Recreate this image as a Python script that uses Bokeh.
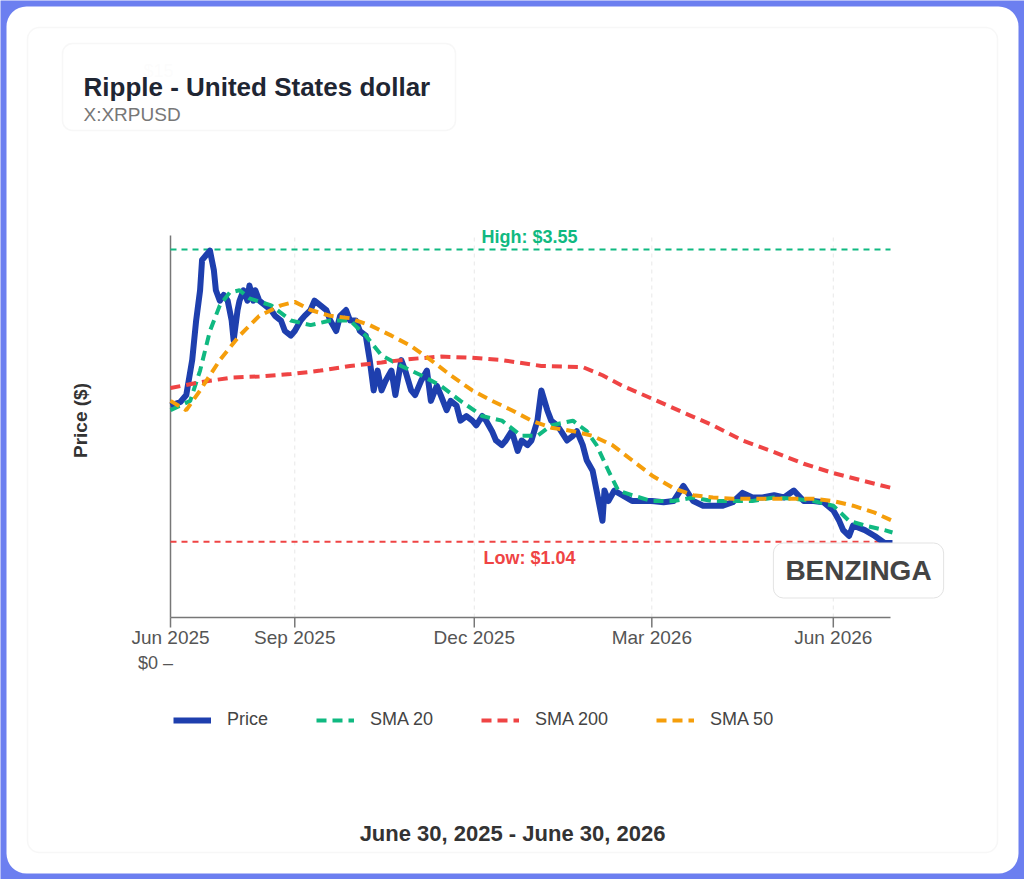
import pandas as pd
from bokeh.plotting import figure
from bokeh.models import Label, BoxAnnotation, Legend, LegendItem, Range1d
from bokeh.core.properties import value
from bokeh.embed import file_html
from bokeh.resources import INLINE

START = pd.Timestamp("2025-06-30")
END = pd.Timestamp("2026-06-30")

# price (days after June 30 2025, USD)
price_days = [0, 5, 8, 11, 13, 15, 16, 18, 20, 22, 23, 25, 27, 29, 31, 32, 34, 35, 37, 39, 40, 42, 43, 45,
              48, 51, 53, 56, 58, 61, 63, 66, 68, 71, 73, 76, 79, 81, 84, 86, 89, 91, 94, 96, 99, 101, 103,
              105, 107, 109, 112, 114, 117, 119, 122, 124, 127, 130, 132, 135, 137, 140, 142, 145, 147, 150,
              153, 155, 158, 160, 163, 165, 168, 170, 173, 176, 178, 181, 183, 186, 188, 191, 193, 196, 198,
              201, 204, 206, 209, 211, 214, 216, 219, 220, 222, 225, 229, 234, 239, 244, 250, 255, 260, 265,
              270, 275, 280, 285, 290, 295, 300, 306, 311, 316, 321, 326, 331, 336, 339, 341, 344, 346, 352,
              357, 362, 366]
price = [2.21, 2.24, 2.30, 2.60, 2.94, 3.20, 3.46, 3.50, 3.54, 3.37, 3.20, 3.11, 3.16, 3.11, 2.94, 2.77,
         3.03, 3.11, 3.20, 3.11, 3.24, 3.11, 3.20, 3.11, 3.07, 3.03, 2.98, 2.94, 2.85, 2.81, 2.85, 2.94,
         2.98, 3.03, 3.11, 3.07, 3.03, 2.94, 2.85, 2.98, 3.03, 2.94, 2.94, 2.85, 2.81, 2.60, 2.34, 2.51,
         2.34, 2.42, 2.51, 2.30, 2.60, 2.51, 2.34, 2.30, 2.42, 2.51, 2.25, 2.38, 2.30, 2.17, 2.25, 2.21,
         2.08, 2.12, 2.08, 2.04, 2.12, 2.08, 1.99, 1.91, 1.87, 1.91, 1.99, 1.82, 1.91, 1.87, 1.91, 2.08,
         2.34, 2.17, 2.08, 2.04, 1.99, 1.91, 1.95, 1.99, 1.87, 1.74, 1.65, 1.48, 1.22, 1.48, 1.39, 1.48,
         1.44, 1.39, 1.39, 1.39, 1.38, 1.39, 1.52, 1.39, 1.35, 1.35, 1.35, 1.38, 1.46, 1.42, 1.42, 1.44,
         1.42, 1.48, 1.39, 1.39, 1.38, 1.31, 1.22, 1.14, 1.09, 1.18, 1.14, 1.09, 1.03, 1.03]

sma20_days = [0, 10, 15, 20, 25, 30, 35, 40, 51, 61, 71, 81, 91, 99, 107, 117, 127, 137, 147, 158, 168,
              178, 186, 193, 204, 211, 216, 222, 227, 234, 244, 255, 265, 275, 285, 295, 306, 316, 326,
              336, 344, 352, 362, 366]
sma20 = [2.17, 2.25, 2.51, 2.85, 3.07, 3.18, 3.20, 3.13, 3.07, 2.94, 2.90, 2.94, 2.94, 2.81, 2.64, 2.55,
         2.47, 2.38, 2.25, 2.12, 2.08, 1.95, 1.95, 2.04, 2.08, 1.99, 1.87, 1.65, 1.48, 1.44, 1.39, 1.39,
         1.42, 1.39, 1.39, 1.39, 1.42, 1.41, 1.39, 1.35, 1.22, 1.18, 1.14, 1.12]

sma50_days = [0, 8, 15, 25, 35, 45, 56, 63, 71, 81, 91, 101, 112, 122, 132, 142, 153, 163, 173, 183, 193,
              204, 214, 224, 234, 244, 255, 265, 275, 285, 295, 306, 316, 326, 336, 346, 357, 366]
sma50 = [2.25, 2.17, 2.34, 2.60, 2.81, 2.98, 3.07, 3.10, 3.03, 2.98, 2.96, 2.90, 2.81, 2.72, 2.60, 2.47,
         2.34, 2.25, 2.17, 2.08, 2.02, 1.99, 1.95, 1.87, 1.74, 1.61, 1.50, 1.44, 1.42, 1.41, 1.41, 1.41,
         1.41, 1.41, 1.39, 1.35, 1.29, 1.22]

sma200_days = [0, 15, 31, 45, 61, 76, 91, 107, 122, 137, 153, 168, 188, 209, 219, 229, 244, 260, 275, 290,
               306, 321, 336, 352, 366]
sma200 = [2.36, 2.41, 2.45, 2.46, 2.48, 2.51, 2.55, 2.58, 2.61, 2.63, 2.62, 2.60, 2.55, 2.54, 2.47, 2.38,
          2.27, 2.15, 2.04, 1.91, 1.81, 1.71, 1.63, 1.56, 1.50]

HIGH = 3.55
LOW = 1.04
Y_MIN, Y_MAX = 0.39, 3.67

tick_dates = ["2025-06-30", "2025-09-01", "2025-12-01", "2026-03-01", "2026-06-01"]
tick_labels = ["Jun 2025", "Sep 2025", "Dec 2025", "Mar 2026", "Jun 2026"]

BLUE = "#1e3fae"
GREEN = "#10b981"
RED = "#ef4444"
ORANGE = "#f59e0b"
AXIS = "#777777"
FONT = "Liberation Sans"

W, H = 1024, 879
# plot region inside the canvas (pixels)
PL, PR, PT, PB = 170, 890, 235, 617
days_per_px = (END - START).days / (PR - PL)
usd_per_px = (Y_MAX - Y_MIN) / (PB - PT)
x0 = START - pd.Timedelta(days=PL * days_per_px)
x1 = END + pd.Timedelta(days=(W - PR) * days_per_px)
y1 = Y_MAX + PT * usd_per_px
y0 = Y_MIN - (H - PB) * usd_per_px


def to_dates(days):
    return [START + pd.Timedelta(days=d) for d in days]


p = figure(width=W, height=H, x_axis_type="datetime", output_backend="svg", toolbar_location=None,
           x_range=Range1d(x0, x1), y_range=Range1d(y0, y1), min_border=0)
p.axis.visible = False
p.grid.visible = False
p.outline_line_color = None
p.background_fill_color = "#6c7ff0"
p.border_fill_color = "#6c7ff0"


def sbox(l, r, t, b, **kw):
    p.add_layout(BoxAnnotation(left=l, right=r, top=H - t, bottom=H - b, left_units="screen",
                               right_units="screen", top_units="screen", bottom_units="screen", **kw))


def slabel(x, y, text, **kw):
    p.add_layout(Label(x=x, y=H - y, x_units="screen", y_units="screen", text=text, text_font=FONT, **kw))


sbox(6, W - 6, 6, H - 6, fill_color="white", fill_alpha=1, line_color=None, border_radius=20, level="underlay")
sbox(27, 997, 27, 852, fill_alpha=0, line_color="#e3e3e3", line_width=1.5, border_radius=12, level="underlay")

# grid, axes, ticks
ticks = [pd.Timestamp(t) for t in tick_dates]
tick_len = 10 * usd_per_px
p.segment(ticks[1:], [Y_MIN] * 4, ticks[1:], [Y_MAX] * 4, line_color="#e8e8e8", line_dash="4 4")
p.segment([START, START], [Y_MIN, Y_MIN], [START, END], [Y_MAX, Y_MIN], line_color=AXIS, line_width=1.5)
p.segment(ticks, [Y_MIN] * 5, ticks, [Y_MIN - tick_len] * 5, line_color=AXIS, line_width=1.5)
p.text(ticks, [Y_MIN - 20 * usd_per_px] * 5, text=tick_labels, text_align="center", text_baseline="middle",
       text_font=value(FONT), text_font_size="19px", text_color="#555555")

p.segment([START], [HIGH], [END], [HIGH], line_color=GREEN, line_dash="6 5", line_width=2)
p.segment([START], [LOW], [END], [LOW], line_color=RED, line_dash="6 5", line_width=2)

r_price = p.line(to_dates(price_days), price, line_color=BLUE, line_width=6, line_join="round")
r20 = p.line(to_dates(sma20_days), sma20, line_color=GREEN, line_width=4, line_dash="10 6")
r200 = p.line(to_dates(sma200_days), sma200, line_color=RED, line_width=4, line_dash="10 6")
r50 = p.line(to_dates(sma50_days), sma50, line_color=ORANGE, line_width=4, line_dash="10 6")

mid = START + pd.Timedelta(days=182)
p.add_layout(Label(x=mid, y=HIGH, text=f"High: ${HIGH:.2f}", text_align="center", text_baseline="bottom",
                   y_offset=2, text_color=GREEN, text_font=FONT, text_font_style="bold", text_font_size="18px"))
p.add_layout(Label(x=mid, y=LOW, text=f"Low: ${LOW:.2f}", text_align="center", text_baseline="top",
                   y_offset=-6, text_color=RED, text_font=FONT, text_font_style="bold", text_font_size="18px"))

legend = Legend(items=[LegendItem(label="Price", renderers=[r_price]),
                       LegendItem(label="SMA 20", renderers=[r20]),
                       LegendItem(label="SMA 200", renderers=[r200]),
                       LegendItem(label="SMA 50", renderers=[r50])],
                orientation="horizontal", location=(173, H - 730), glyph_width=38, label_standoff=16,
                spacing=48, border_line_color=None, background_fill_alpha=0, label_text_font=FONT,
                label_text_font_size="18px", label_text_color="#444444")
p.add_layout(legend)

slabel(158, 70, "$15", text_color="#e8e8e8", text_font_size="18px", text_align="center", text_baseline="middle")
sbox(62, 455, 43, 130, fill_color="white", fill_alpha=0.85, line_color="#e6e6e6", line_width=1.5,
     border_radius=10)
slabel(83, 86, "Ripple - United States dollar", text_color="#1f2633", text_font_size="26px",
       text_font_style="bold", text_baseline="middle")
slabel(83, 114, "X:XRPUSD", text_color="#777777", text_font_size="19px", text_baseline="middle")
slabel(80, 420, "Price ($)", text_color="#333333", text_font_size="19px", text_font_style="bold",
       text_align="center", text_baseline="middle", angle=1.5708)
slabel(155, 662, "$0 \u2013", text_color="#555555", text_font_size="18px", text_align="center",
       text_baseline="middle")
slabel(858, 570, "BENZINGA", text_color="#444444", text_font_size="28px", text_font_style="bold",
       text_align="center", text_baseline="middle", border_line_color="#e3e3e3",
       background_fill_color="white", padding=12, border_radius=10)
slabel(512, 833, "June 30, 2025 - June 30, 2026", text_color="#333333", text_font_size="22px",
       text_font_style="bold", text_align="center", text_baseline="middle")

open("out.html", "w").write(file_html(p, INLINE))
